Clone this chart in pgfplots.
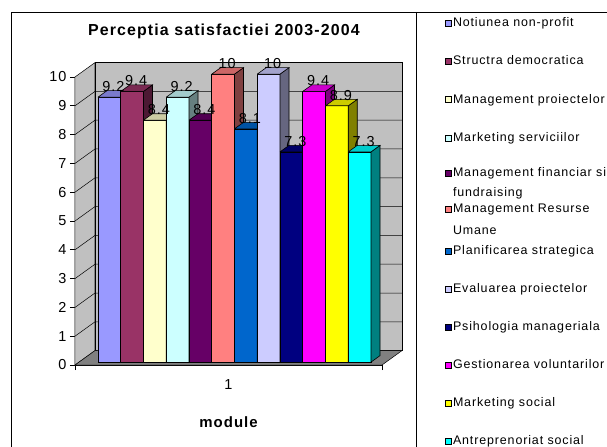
\documentclass[border=0pt]{standalone}
\usepackage{fontspec}
\setmainfont{Liberation Sans}[LetterSpace=7]
\usepackage{pgfplots}
\pgfplotsset{compat=1.18}
\definecolor{c1}{HTML}{9999FF}
\definecolor{c2}{HTML}{993366}
\definecolor{c3}{HTML}{FFFFCC}
\definecolor{c4}{HTML}{CCFFFF}
\definecolor{c5}{HTML}{660066}
\definecolor{c6}{HTML}{FF8080}
\definecolor{c7}{HTML}{0066CC}
\definecolor{c8}{HTML}{CCCCFF}
\definecolor{c9}{HTML}{000080}
\definecolor{c10}{HTML}{FF00FF}
\definecolor{c11}{HTML}{FFFF00}
\definecolor{c12}{HTML}{00FFFF}
\definecolor{wall}{HTML}{C0C0C0}
\definecolor{floorc}{HTML}{808080}
\newcommand\fsz[1]{\fontsize{#1}{#1}\selectfont}
\newcommand\lgtwo[3]{\parbox[t]{160bp}{\baselineskip=#1bp #2\\#3}}
\newcommand\drawbar[3]{%
 \pgfmathsetmacro\xa{23+22.75*#1}%
 \pgfmathsetmacro\xb{\xa+22.75}%
 \pgfmathsetmacro\xc{\xb+9}%
 \pgfmathsetmacro\xd{\xa+9}%
 \pgfmathsetmacro\yt{#2+0.1}%
 \pgfmathsetmacro\ytt{#2+0.325}%
 \edef\barcmd{%
  \noexpand\addplot[forget plot, fill=#3, draw=black, line width=0.6bp] coordinates {(\xa,0.1) (\xb,0.1) (\xb,\yt) (\xa,\yt) (\xa,0.1)};
  \noexpand\addplot[forget plot, fill=#3!50!black, draw=black, line width=0.6bp] coordinates {(\xb,0.1) (\xc,0.325) (\xc,\ytt) (\xb,\yt) (\xb,0.1)};
  \noexpand\addplot[forget plot, fill=#3!80!black, draw=black, line width=0.6bp] coordinates {(\xa,\yt) (\xb,\yt) (\xc,\ytt) (\xd,\ytt) (\xa,\yt)};
 }\barcmd}
\begin{document}
\begin{tikzpicture}
\begin{axis}[name=ax,
  width=307bp, height=288bp, scale only axis,
  xmin=0, xmax=307, ymin=0, ymax=10,
  clip=false,
  axis lines*=left,
  axis line style={line width=0.8bp},
  tick align=outside, major tick length=5bp,
  tick style={black, line width=0.8bp},
  ytick={0,1,2,3,4,5,6,7,8,9,10},
  xtick={0,307}, xticklabels={},
  extra x ticks={153.5}, extra x tick labels={1},
  extra x tick style={major tick length=0pt, xticklabel style={yshift=-11bp}},
  /pgf/number format/assume math mode=true,
  ticklabel style={font=\fsz{14.5}},
  title={Perceptia satisfactiei 2003-2004},
  title style={font=\bfseries\fsz{16}, at={(axis description cs:0.485,1.139)}, anchor=center},
  xlabel={module},
  xlabel style={font=\bfseries\fsz{15}, at={(axis description cs:0.5,-0.198)}, anchor=center},
  legend style={at={(axis description cs:1.2052,1.2535)}, anchor=north west, draw=none, fill=none,
    inner sep=0pt, outer sep=0pt, font=\fsz{12.5}, row sep=0pt, column sep=1.5bp,
    nodes={inner sep=0pt, outer sep=0pt}},
  legend cell align=left,
  legend image code/.code={\draw[#1, line width=0.5bp] (0bp,-3bp) rectangle (6bp,3bp);},
]
% walls and floor
\addplot[forget plot, fill=wall, draw=black, line width=0.5bp] coordinates {(0,0) (20,0.5) (20,10.5) (0,10) (0,0)};
\addplot[forget plot, fill=wall, draw=black, line width=0.5bp] coordinates {(20,0.5) (327,0.5) (327,10.5) (20,10.5) (20,0.5)};
\addplot[forget plot, fill=floorc, draw=black, line width=0.5bp] coordinates {(0,0) (307,0) (327,0.5) (20,0.5) (0,0)};
\addplot[forget plot, black, line width=0.5bp] coordinates {(0,1) (20,1.5) (327,1.5)};
\addplot[forget plot, black, line width=0.5bp] coordinates {(0,2) (20,2.5) (327,2.5)};
\addplot[forget plot, black, line width=0.5bp] coordinates {(0,3) (20,3.5) (327,3.5)};
\addplot[forget plot, black, line width=0.5bp] coordinates {(0,4) (20,4.5) (327,4.5)};
\addplot[forget plot, black, line width=0.5bp] coordinates {(0,5) (20,5.5) (327,5.5)};
\addplot[forget plot, black, line width=0.5bp] coordinates {(0,6) (20,6.5) (327,6.5)};
\addplot[forget plot, black, line width=0.5bp] coordinates {(0,7) (20,7.5) (327,7.5)};
\addplot[forget plot, black, line width=0.5bp] coordinates {(0,8) (20,8.5) (327,8.5)};
\addplot[forget plot, black, line width=0.5bp] coordinates {(0,9) (20,9.5) (327,9.5)};
% bars: index, value, colour
\drawbar{0}{9.2}{c1}
\drawbar{1}{9.4}{c2}
\drawbar{2}{8.4}{c3}
\drawbar{3}{9.2}{c4}
\drawbar{4}{8.4}{c5}
\drawbar{5}{10}{c6}
\drawbar{6}{8.1}{c7}
\drawbar{7}{10}{c8}
\drawbar{8}{7.3}{c9}
\drawbar{9}{9.4}{c10}
\drawbar{10}{8.9}{c11}
\drawbar{11}{7.3}{c12}
% value labels
\addplot[forget plot, draw=none, mark=none, nodes near coords, point meta=explicit symbolic,
  every node near coord/.style={anchor=center, font=\fsz{14.5}, text=black}] coordinates {
 (38.4,9.67) [9.2] (61.15,9.87) [9.4] (83.9,8.87) [8.4] (106.65,9.67) [9.2]
 (129.4,8.87) [8.4] (152.15,10.47) [10] (174.9,8.57) [8.1] (197.65,10.47) [10]
 (220.4,7.77) [7.3] (243.15,9.87) [9.4] (265.9,9.37) [8.9] (288.65,7.77) [7.3]};
% legend
\addlegendimage{fill=c1, draw=black}\addlegendentry[text depth=15bp, text height=23bp]{Notiunea non-profit}
\addlegendimage{fill=c2, draw=black}\addlegendentry[text depth=15bp, text height=23bp]{Structra democratica}
\addlegendimage{fill=c3, draw=black}\addlegendentry[text depth=15.7bp, text height=23.7bp]{Management proiectelor}
\addlegendimage{fill=c4, draw=black}\addlegendentry[text depth=14.6bp, text height=22.6bp]{Marketing serviciilor}
\addlegendimage{fill=c5, draw=black}\addlegendentry[text depth=12.4bp, text height=20.4bp]{\lgtwo{20}{Management financiar si}{fundraising}}
\addlegendimage{fill=c6, draw=black}\addlegendentry[text depth=15.6bp, text height=23.6bp]{\lgtwo{22}{Management Resurse}{Umane}}
\addlegendimage{fill=c7, draw=black}\addlegendentry[text depth=18.4bp, text height=26.4bp]{Planificarea strategica}
\addlegendimage{fill=c8, draw=black}\addlegendentry[text depth=11.6bp, text height=19.6bp]{Evaluarea proiectelor}
\addlegendimage{fill=c9, draw=black}\addlegendentry[text depth=18.4bp, text height=26.4bp]{Psihologia manageriala}
\addlegendimage{fill=c10, draw=black}\addlegendentry[text depth=11.6bp, text height=19.6bp]{Gestionarea voluntarilor}
\addlegendimage{fill=c11, draw=black}\addlegendentry[text depth=18.4bp, text height=26.4bp]{Marketing social}
\addlegendimage{fill=c12, draw=black}\addlegendentry[text depth=11.6bp, text height=19.6bp]{Antreprenoriat social}
\end{axis}
\begin{scope}[shift={(ax.south west)}]
\draw[line width=0.8bp] (-64bp,-95bp) -- (-64bp,353bp) -- (545bp,353bp);
\draw[line width=0.8bp] (341bp,353bp) -- (341bp,-95bp);
\pgfresetboundingbox
\path[use as bounding box] (-75bp,-82bp) rectangle (532bp,365bp);
\end{scope}
\end{tikzpicture}
\end{document}
